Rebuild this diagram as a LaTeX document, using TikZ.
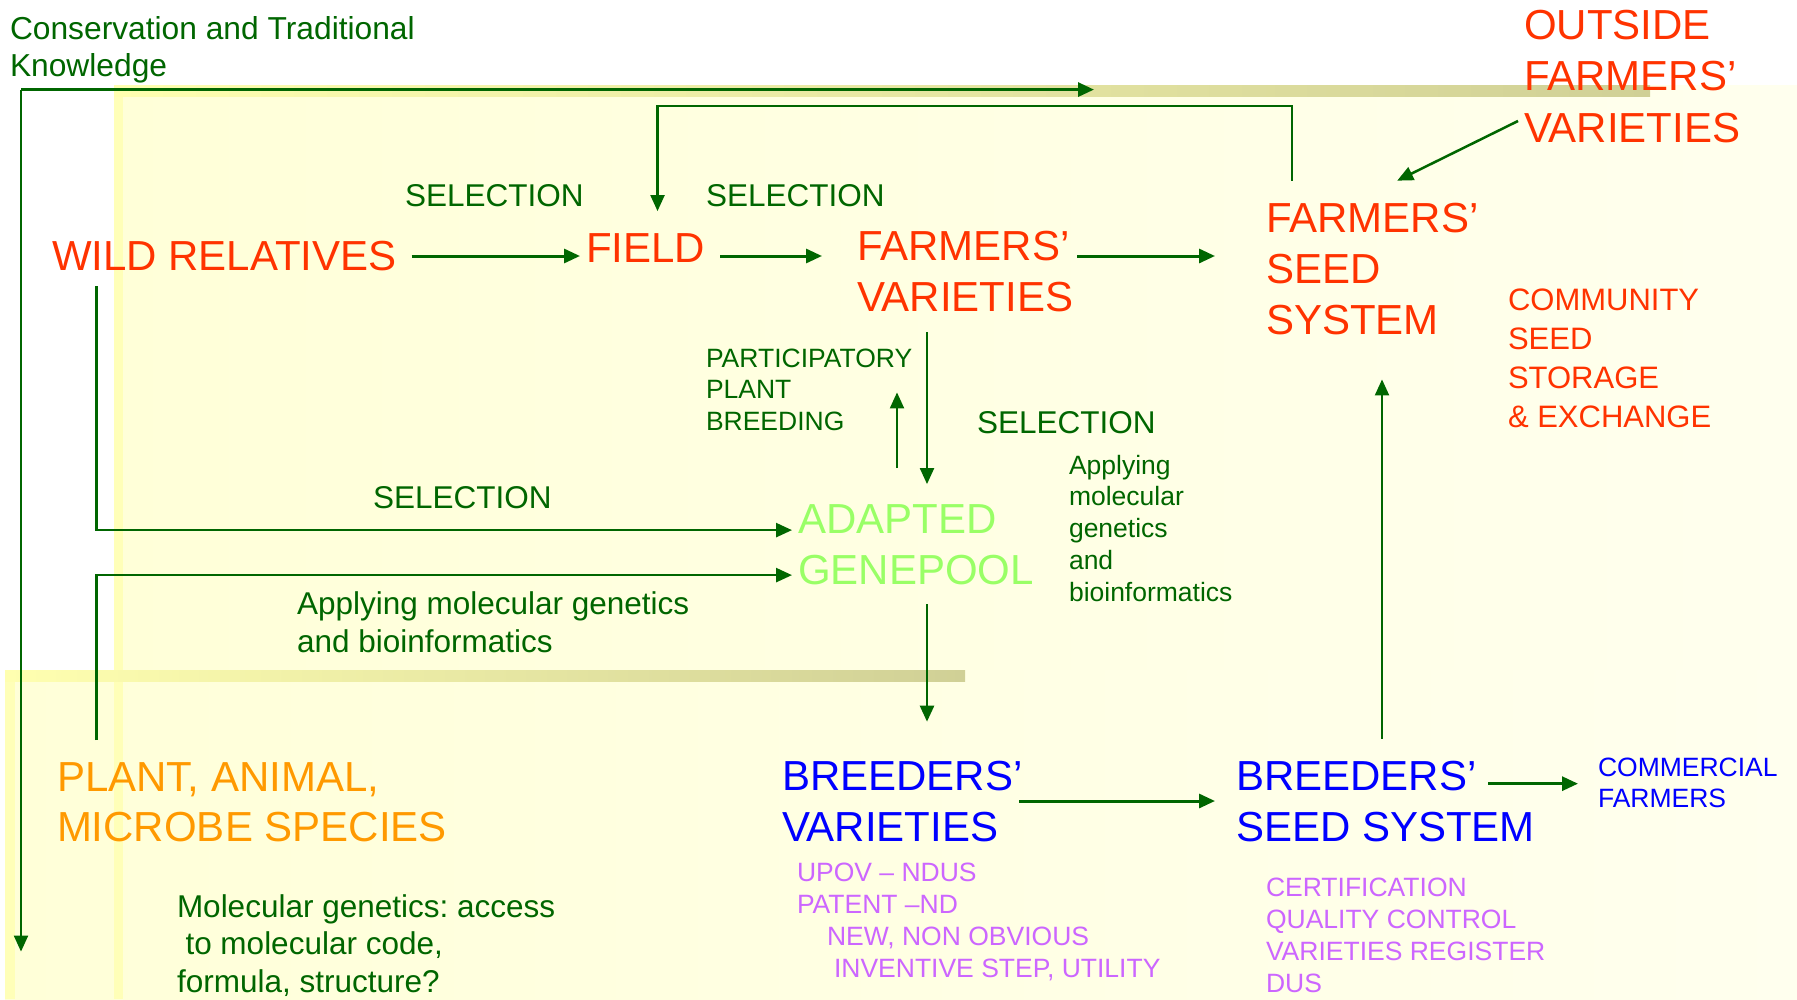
\documentclass[tikz,border=0pt]{standalone}
\usepackage{fontspec}
\setmainfont{Liberation Sans}
\usetikzlibrary{calc,arrows.meta}
\frenchspacing
\definecolor{tred}{RGB}{255,51,0}
\definecolor{dg}{RGB}{0,102,0}
\definecolor{lgreen}{RGB}{153,255,102}
\definecolor{orng}{RGB}{255,153,0}
\definecolor{blu}{RGB}{0,0,255}
\definecolor{viol}{RGB}{204,102,255}
\definecolor{panelL}{RGB}{255,255,216}
\definecolor{panelR}{RGB}{255,255,238}
\definecolor{stripe}{RGB}{255,255,184}
\definecolor{barY}{RGB}{255,255,176}
\definecolor{barK}{RGB}{208,208,150}
\begin{document}
\begin{tikzpicture}[x=0.4pt,y=-0.4pt,
  lbl/.style={inner sep=0pt, outer sep=0pt, anchor=base west, align=left},
  big/.style={lbl, font=\fontsize{16.8pt}{20.4pt}\selectfont},
  mid/.style={lbl, font=\fontsize{12.6pt}{15.2pt}\selectfont},
  sml/.style={lbl, font=\fontsize{10.6pt}{12.7pt}\selectfont},
  arr/.style={draw=dg, line width=1.2pt, -{Triangle[length=6.4pt,width=5.6pt]}},
  tarr/.style={draw=dg, line width=0.85pt, -{Triangle[length=6.4pt,width=5.6pt]}}]
\useasboundingbox (0,0) rectangle (1797,999);
% background
\fill[white] (0,0) rectangle (1797,999);
\shade[left color=panelL, right color=panelR] (114,86) rectangle (1797,999);
\shade[left color=panelL, right color=panelR] (5,670) rectangle (1797,999);
\fill[stripe] (114,86) rectangle (123,999);
\fill[stripe] (5,681) rectangle (15,999);
\shade[left color=barY, right color=barK] (114,86) rectangle (1650,97);
\shade[left color=barY, right color=barK] (5,670) rectangle (965,681);

% texts (base anchor = baseline of the last line)
\node[lbl, font=\fontsize{12.7pt}{14.8pt}\selectfont, text=dg] (ctk) at (10,77) {Conservation and Traditional\\Knowledge};
\node[mid, text=dg] (sel1) at (405,206) {SELECTION};
\node[mid, text=dg] (sel2) at (706,206) {SELECTION};
\node[big, text=tred] (wild) at (52,270) {WILD RELATIVES};
\node[big, text=tred] (field) at (586,262) {FIELD};
\node[big, text=tred] (fv) at (857,311) {FARMERS’\\VARIETIES};
\node[big, text=tred] (ofv) at (1524,142) {OUTSIDE\\FARMERS’\\VARIETIES};
\node[big, text=tred] (fss) at (1266,334) {FARMERS’\\SEED\\SYSTEM};
\node[lbl, font=\fontsize{12.4pt}{15.6pt}\selectfont, text=tred] (css) at (1508,427) {COMMUNITY\\SEED\\STORAGE\\\& EXCHANGE};
\node[sml, text=dg] (ppb) at (706,430.5) {PARTICIPATORY\\PLANT\\BREEDING};
\node[mid, text=dg] (sel3) at (977,433) {SELECTION};
\node[sml, text=dg] (amg1) at (1069,601) {Applying\\molecular\\genetics\\and\\bioinformatics};
\node[mid, text=dg] (sel4) at (373,508) {SELECTION};
\node[big, text=lgreen] (ag) at (798,584) {ADAPTED\\GENEPOOL};
\node[mid, text=dg] (amg2) at (297,652) {Applying molecular genetics\\and bioinformatics};
\node[lbl, font=\fontsize{16.8pt}{20pt}\selectfont, text=orng] (pams) at (57,841) {PLANT, ANIMAL,\\MICROBE SPECIES};
\node[big, text=blu] (bv) at (782,841) {BREEDERS’\\VARIETIES};
\node[big, text=blu] (bss) at (1236,841) {BREEDERS’\\SEED SYSTEM};
\node[lbl, font=\fontsize{10.6pt}{12.4pt}\selectfont, text=blu] (cf) at (1598,807) {COMMERCIAL\\FARMERS};
\node[sml, text=viol] (upov) at (797,977) {UPOV – NDUS\\PATENT –ND\\\hspace*{12pt}NEW, NON OBVIOUS\\\hspace*{14.8pt}INVENTIVE STEP, UTILITY};
\node[sml, text=viol] (cert) at (1266,992) {CERTIFICATION\\QUALITY CONTROL\\VARIETIES REGISTER\\DUS};
\node[lbl, font=\fontsize{12.6pt}{15.1pt}\selectfont, text=dg] (mg) at (177,992.5) {Molecular genetics: access\\\hspace*{3.4pt}to molecular code,\\formula, structure?};

% connectors
\coordinate (ck) at ($(ctk.south west)+(11,6)$);
\draw[arr] (ck) -- ++(1073,0);
\draw[tarr] (ck) -- ++(0,862);
\draw[arr, shorten <=6pt, shorten >=2.4pt] (wild.east |- 0,256) -- (field.west |- 0,256);
\draw[arr, shorten <=6pt, shorten >=14pt] (field.east |- 0,256) -- (fv.west |- 0,256);
\draw[arr, shorten <=1.6pt, shorten >=20.4pt] (fv.east |- 0,256) -- (fss.west |- 0,256);
\draw[tarr, line width=1pt] ($(ofv.west |- 0,121)+(-6,0)$) -- ($(fss.north)+(25,-22)$);
\draw[tarr] ($(fss.north west)+(26,-22)$) -- ++(0,-75) -| ($(field.north)+(12,-22)$);
\draw[tarr] ($(ag.north west)+(99,-36)$) -- ($(fv.south west)+(40,81)$);
\draw[tarr] ($(fv.south west)+(70,21)$) -- ($(ag.north west)+(129,-20)$);
\draw[arr, line width=1.05pt] ($(wild.south west)+(44.5,16)$) |- ($(ag.north west)+(-6,26)$);
\draw[arr, line width=1.05pt] ($(pams.north west)+(39.5,-22)$) |- ($(ag.north west)+(-6,71)$);
\draw[tarr, line width=1pt] ($(ag.south west)+(129,20)$) -- ($(bv.north west)+(145,-39)$);
\draw[arr] ($(bv.east |- 0,801)+(-3,0)$) -- ($(bss.west |- 0,801)+(-21,0)$);
\draw[arr] ($(bss.north west)+(252,23)$) -- ($(cf.west |- bss.north)+(-20,23)$);
\draw[tarr] ($(bss.north west)+(146,-22)$) -- ($(fss.south west)+(116,45)$);
\end{tikzpicture}
\end{document}
